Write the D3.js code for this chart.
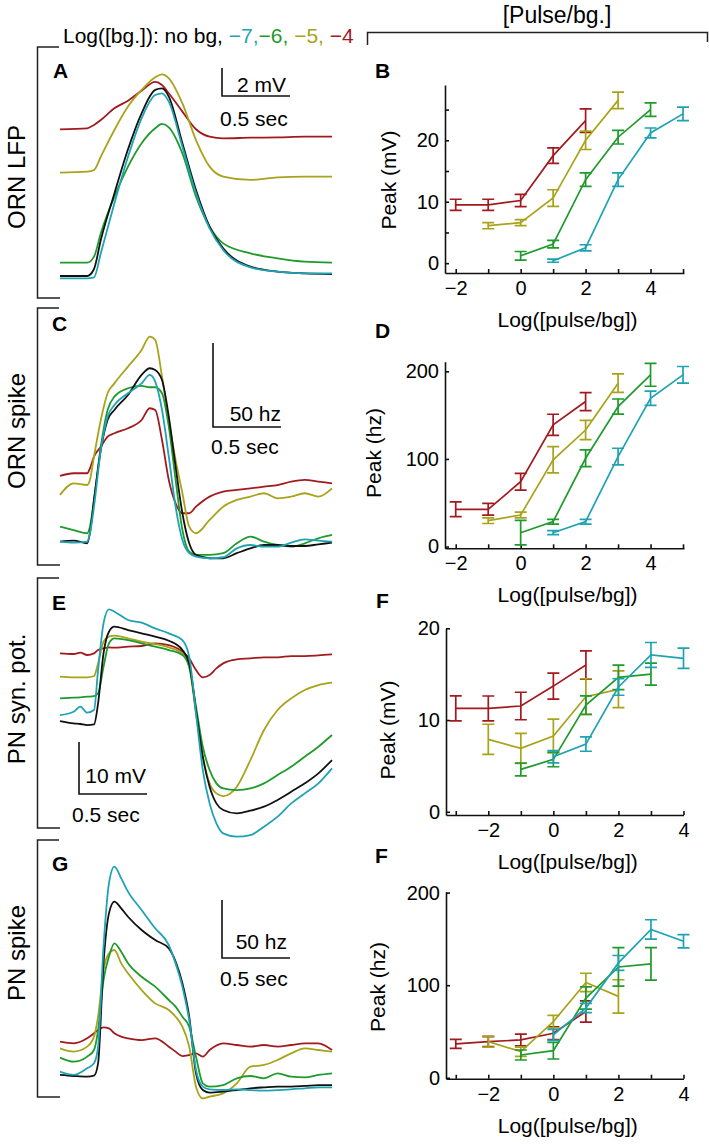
<!DOCTYPE html>
<html><head><meta charset="utf-8">
<script src="https://cdn.jsdelivr.net/npm/d3@7"></script>
<style>
body{margin:0;background:#fff}
svg{display:block}
text{font-family:"Liberation Sans",Arial,Helvetica,sans-serif;fill:#000}
</style>
</head><body>
<svg id="c" width="709" height="1146"></svg>
<script>
// ---------------- DATA ----------------
// background levels, order: no bg, -7, -6, -5, -4
const bgLabels = ["no bg", "−7", "−6", "−5", "−4"];

// Panel A: ORN LFP traces (time in s, value in mV, arbitrary offset)
const tLfp = [0,0.2,0.25,0.3,0.4,0.5,0.6,0.7,0.75,0.8,0.9,1.0,1.1,1.2,1.4,1.6,1.8,2.0];
const lfpNone = [0,0,0.5,2.57,5.90,9.05,11.62,13.29,13.40,12.81,9.48,6.14,3.52,1.98,0.67,0.31,0.19,0.14];
const lfpM7   = [-0.17,-0.17,-0.10,1.62,5.19,8.52,11.26,12.93,13.05,12.45,9.24,5.90,3.40,1.86,0.62,0.31,0.19,0.19];
const lfpM6   = [0.95,0.95,1.38,3.05,5.67,7.81,9.48,10.55,10.86,10.62,8.76,5.67,3.52,2.33,1.62,1.26,1.02,0.95];
const lfpM5   = [7.38,7.45,7.57,8.52,10.43,12.10,13.29,14.19,14.40,14.12,12.33,9.71,7.81,7.10,6.86,7.05,7.10,7.10];
const lfpM4   = [10.48,10.55,10.79,11.14,11.98,12.52,13.24,13.86,13.64,13.05,11.74,10.48,9.95,9.83,9.88,9.90,9.95,9.95];

// Panel C: ORN spike rate traces (Hz)
const tOrn = [0,0.1,0.2,0.22,0.25,0.3,0.35,0.4,0.5,0.6,0.66,0.7,0.75,0.8,0.85,0.9,0.95,1.0,1.1,1.2,1.3,1.4,1.5,1.6,1.7,1.8,1.9,2.0];
const ornNone = [12.9,13.5,11.9,17.9,37.7,67.5,85.3,91.3,100.2,112.1,116.1,115.1,109.1,87.3,57.5,29.8,11.9,5.0,3.0,3.0,6.0,8.9,10.9,10.9,10.3,10.3,11.3,12.3];
const ornM7   = [12.9,12.3,12.9,17.9,33.7,67.5,87.3,94.2,101.2,107.1,112.1,108.1,91.3,63.5,33.7,13.9,6.0,4.0,3.0,3.6,8.9,10.9,9.9,9.9,12.3,14.3,13.5,12.9];
const ornM6   = [21.8,19.8,17.9,21.8,37.7,69.4,91.3,99.2,104.2,105.6,104.8,104.8,101.2,81.3,49.6,19.8,6.9,5.0,5.0,6.0,11.9,15.9,12.9,10.9,9.9,11.9,14.9,16.9];
const ornM5   = [40.7,47.6,46.6,49.6,63.5,85.3,101.2,107.1,117.1,127.0,134.9,132.9,111.1,85.3,61.5,41.7,21.8,17.9,25.8,33.7,37.7,39.7,41.7,38.7,39.7,41.7,39.7,44.6];
const ornM4   = [52.0,53.6,53.6,56.5,63.5,69.4,75.4,77.4,80.4,85.3,92.3,91.3,73.4,49.6,35.7,29.8,29.8,33.7,39.7,42.7,43.7,44.6,45.6,46.6,48.6,49.6,48.6,47.6];

// Panel E: PN synaptic potential traces (mV)
const tSyn = [0,0.1,0.15,0.2,0.25,0.28,0.32,0.36,0.4,0.5,0.6,0.7,0.8,0.9,0.95,1.0,1.05,1.1,1.15,1.2,1.3,1.4,1.5,1.6,1.7,1.8,1.9,2.0];
const synNone = [22.24,21.79,21.67,21.47,21.60,25.64,35.26,39.42,40.38,39.74,39.10,38.46,37.69,35.90,33.33,24.36,15.38,9.62,6.41,5.13,4.49,5.0,5.77,7.05,8.65,10.26,12.18,14.74];
const synM7   = [23.40,24.04,25.0,23.85,24.36,32.05,41.03,43.72,43.27,41.67,41.15,40.06,39.10,37.82,34.62,23.72,12.82,6.41,2.56,0.64,0,0.32,1.92,3.85,6.41,8.33,10.26,13.14];
const synM6   = [26.60,26.73,26.79,26.92,27.05,27.56,32.69,37.18,38.14,37.82,37.18,36.54,35.90,34.94,32.69,25.0,17.31,12.82,10.26,9.29,8.97,9.29,10.26,11.86,13.46,15.38,17.31,19.55];
const synM5   = [30.77,30.64,30.64,30.64,30.90,33.33,37.50,38.46,38.65,38.14,37.50,37.05,36.41,35.26,32.69,23.72,15.38,10.26,8.33,7.82,9.62,14.74,20.51,24.36,26.60,28.21,29.17,29.62];
const synM4   = [35.26,35.13,35.38,34.94,35.26,35.90,36.22,36.41,36.35,36.54,36.67,37.18,36.86,35.58,34.29,32.05,30.64,31.09,32.37,33.33,34.10,34.29,34.49,34.49,34.74,34.74,34.87,35.06];

// Panel G: PN spike rate traces (Hz)
const tPn = [0,0.1,0.2,0.25,0.28,0.32,0.36,0.4,0.45,0.5,0.6,0.7,0.8,0.85,0.9,0.95,1.0,1.05,1.1,1.2,1.3,1.4,1.5,1.6,1.7,1.8,1.9,2.0];
const pnNone = [21.6,20.7,20.1,21.0,31.6,117.8,160.9,171.0,165.2,158.0,146.6,137.9,130.7,119.3,100.6,71.8,23.0,8.6,6.3,7.2,8.6,10.1,10.9,11.5,11.5,12.1,12.9,12.9];
const pnM7   = [24.4,21.6,27.3,31.6,46.0,132.2,186.8,201.1,191.1,179.6,163.8,148.0,133.6,117.8,97.7,69.0,25.9,11.5,9.2,8.6,9.2,8.6,8.0,8.6,9.2,10.1,10.9,10.9];
const pnM6   = [36.5,33.0,37.4,43.1,60.3,103.4,123.6,135.1,127.9,117.8,106.3,97.7,86.2,80.5,71.8,63.2,37.4,14.4,11.5,12.9,18.7,20.7,18.7,23.0,20.1,19.5,21.6,23.0];
const pnM5   = [44.5,41.7,46.0,54.6,71.8,112.1,126.4,129.3,117.8,109.2,94.8,83.3,77.6,71.8,63.2,46.0,11.5,1.4,2.9,5.7,14.4,28.7,30.2,34.5,40.2,44.5,43.1,41.7];
const pnM4   = [50.3,48.9,53.2,57.5,60.3,62.6,61.8,57.5,54.6,53.2,51.7,53.2,46.0,41.7,37.9,38.8,40.2,37.4,43.1,48.9,47.4,46.0,47.4,46.0,47.4,48.9,48.9,43.1];

// Dose-response panels: series order -7, -6, -5, -4; x = Log([pulse/bg])
const peakXB = [[1,2,3,4,5],[0,1,2,3,4],[-1,0,1,2,3],[-2,-1,0,1,2]];
const peakB  = [[0.4,2.5,13.6,21.2,24.3],[1.2,3.1,13.6,20.5,25.0],[6.1,6.6,10.6,20.0,26.5],[9.5,9.5,10.2,17.5,23.2]];
const errB   = [[0.25,0.5,1.1,0.8,1.1],[0.7,0.6,1.1,1.1,1.1],[0.5,0.5,1.35,1.5,1.35],[0.9,0.9,1.0,1.25,1.9]];

const peakXD = [[1,2,3,4,5],[0,1,2,3,4],[-1,0,1,2,3],[-2,-1,0,1,2]];
const peakD  = [[15.8,28.4,102.7,169.3,196],[15.8,28.4,100.8,159.8,196],[29.5,36,99,133,186.5],[42.5,42.5,74,139,165.5]];
const errD   = [[2.3,2.7,9.5,8.2,9.5],[14,2.7,9.5,8.6,13],[3.2,3.2,15,11,10.5],[8.4,6.7,9.5,12,10.3]];

const peakXF = [[0,1,2,3,4],[-1,0,1,2,3],[-2,-1,0,1,2],[-3,-2,-1,0,1]];
const peakF  = [[6.0,7.38,13.6,17.09,16.73],[4.62,5.71,11.63,14.65,15.0],[7.9,6.91,8.26,12.54,13.35],[11.27,11.27,11.53,13.7,16.0]];
const errF   = [[0.67,0.78,0.9,1.36,1.1],[0.7,0.8,1.0,1.33,1.2],[1.64,1.64,1.85,1.96,2.0],[1.36,1.35,1.5,1.42,1.55]];

const peakXH = [[0,1,2,3,4],[-1,0,1,2,3],[-2,-1,0,1,2],[-3,-2,-1,0,1]];
const peakH  = [[46.3,75.3,124.1,160.2,147.5],[24.6,29.3,86.1,119.7,123.0],[39.0,28.2,60.7,103.0,87.9],[36.6,39.0,40.9,48.1,71.6]];
const errH   = [[6,5,8,10.5,7.2],[5.4,9,12,20.8,17.5],[6,5,6.7,9.9,18],[4.9,5.4,6.3,6.9,11.4]];

// tick values
const xTicksB = [-2,-1,0,1,2,3,4,5];
const xTicksF = [-3,-2,-1,0,1,2,3,4];
const xTickLabels = [-2,0,2,4];

// ---------------- STYLE ----------------
const cNone = "#111111", cM7 = "#1ea3b2", cM6 = "#1f9a2c", cM5 = "#a8a31b", cM4 = "#a21a1e";
const traceColors = [cNone, cM7, cM6, cM5, cM4];
const doseColors = [cM7, cM6, cM5, cM4];
const FONT = '"Liberation Sans", Arial, Helvetica, sans-serif';

const svg = d3.select("#c");
const fmt = d3.format("d");

// ---------------- HEADER ----------------
const hdr = svg.append("text").attr("x", 63).attr("y", 43).attr("font-size", 21);
hdr.append("tspan").text("Log([bg.]): " + bgLabels[0] + ", ");
hdr.append("tspan").style("fill", cM7).text(bgLabels[1] + ",");
hdr.append("tspan").style("fill", cM6).text(bgLabels[2] + ",");
hdr.append("tspan").style("fill", cM5).text(" " + bgLabels[3] + ",");
hdr.append("tspan").style("fill", cM4).text(" " + bgLabels[4]);

svg.append("text").attr("x", 557).attr("y", 23).attr("font-size", 23)
  .attr("text-anchor", "middle").text("[Pulse/bg.]");
svg.append("path").attr("d", "M367.5,45V32.5H707.5V42").attr("fill", "none")
  .attr("stroke", "#222").attr("stroke-width", 1.5);

// left brackets
[[47, 298], [308, 565], [578, 828], [840, 1097]].forEach(([a, b]) => {
  svg.append("path").attr("d", `M59,${a}H37.5V${b}H60`).attr("fill", "none")
    .attr("stroke", "#222").attr("stroke-width", 1.5);
});

// panel letters
[["A", 53, 78], ["B", 375, 78], ["C", 52, 331], ["D", 375, 338], ["E", 52, 610],
 ["F", 376, 608], ["G", 52, 871], ["F", 375, 863]].forEach(([l, x, y]) => {
  svg.append("text").attr("x", x).attr("y", y).attr("font-size", 21)
    .attr("font-weight", "bold").text(l);
});

// rotated row labels
[["ORN LFP", 177], ["ORN spike", 431], ["PN syn. pot.", 699], ["PN spike", 953]].forEach(([t, yc]) => {
  svg.append("text").attr("transform", `translate(25,${yc}) rotate(-90)`)
    .attr("text-anchor", "middle").attr("font-size", 24).text(t);
});

// ---------------- TRACE PANELS ----------------
function tracePanel(o) {
  const x = d3.scaleLinear().domain([0, 2]).range([60, 332]);
  const y = d3.scaleLinear().domain([0, 10]).range([o.y0, o.y0 - 10 * o.k]);
  const line = d3.line().x((d, i) => x(o.t[i])).y(d => y(d)).curve(d3.curveMonotoneX);
  [4, 3, 2, 0, 1].forEach(si => {
    svg.append("path").attr("d", line(o.vals[si])).attr("fill", "none")
      .attr("stroke", traceColors[si]).attr("stroke-width", 1.8)
      .attr("stroke-linejoin", "round");
  });
  const [cx, cy] = o.bar;
  const vlen = y(0) - y(o.barVal), hlen = x(0.5) - x(0);
  svg.append("path").attr("d", `M${cx},${cy - vlen}V${cy}H${cx + hlen}`)
    .attr("fill", "none").attr("stroke", "#111").attr("stroke-width", 1.6);
  svg.append("text").attr("x", cx + hlen + o.vOff[0]).attr("y", cy + o.vOff[1])
    .attr("text-anchor", "end").attr("font-size", 21).text(o.barText);
  svg.append("text").attr("x", cx + o.hOff[0]).attr("y", cy + o.hOff[1])
    .attr("font-size", 21).text("0.5 sec");
}

tracePanel({t: tLfp, vals: [lfpNone, lfpM7, lfpM6, lfpM5, lfpM4], y0: 276, k: 14,
  bar: [222, 96], barVal: 2, barText: "2 mV", vOff: [-4, -4], hOff: [-2, 30]});
tracePanel({t: tOrn, vals: [ornNone, ornM7, ornM6, ornM5, ornM4], y0: 563.3, k: 1.68,
  bar: [213, 427], barVal: 50, barText: "50 hz", vOff: [0, -6], hOff: [-2, 27]});
tracePanel({t: tSyn, vals: [synNone, synM7, synM6, synM5, synM4], y0: 836.7, k: 5.2,
  bar: [79, 794], barVal: 10, barText: "10 mV", vOff: [-1, -11], hOff: [-7, 28]});
tracePanel({t: tPn, vals: [pnNone, pnM7, pnM6, pnM5, pnM4], y0: 1100, k: 1.16,
  bar: [222, 958], barVal: 50, barText: "50 hz", vOff: [-3, -9], hOff: [-2, 28]});

// ---------------- DOSE-RESPONSE PANELS ----------------
function dosePanel(o) {
  const x = d3.scaleLinear().domain(o.xd).range([o.x0, o.x1]);
  const y = d3.scaleLinear().domain(o.yd).range([o.yb, o.yt]);
  const gx = svg.append("g").attr("transform", `translate(0,${o.yb})`)
    .call(d3.axisBottom(x).tickValues(o.xt).tickSizeInner(-4).tickSizeOuter(0).tickPadding(8)
      .tickFormat(d => xTickLabels.includes(d) ? fmt(d) : ""));
  const gy = svg.append("g").attr("transform", `translate(${o.x0},0)`)
    .call(d3.axisLeft(y).tickValues(o.yt2).tickSizeInner(-4).tickSizeOuter(0).tickPadding(6)
      .tickFormat(d => o.yl.includes(d) ? fmt(d) : ""));
  [gx, gy].forEach(g => {
    g.attr("font-size", 20).attr("font-family", FONT);
    g.select(".domain").attr("stroke", "#111").attr("stroke-width", 1.6);
    g.selectAll(".tick line").attr("stroke", "#111").attr("stroke-width", 1.6);
    g.selectAll(".tick text").style("fill", "#000");
  });
  svg.append("text").attr("x", (o.x0 + o.x1) / 2 + 3).attr("y", o.yb + 54)
    .attr("text-anchor", "middle").attr("font-size", 21).text("Log([pulse/bg])");
  svg.append("text").attr("transform", `translate(${o.ytx},${o.ytc}) rotate(-90)`)
    .attr("text-anchor", "middle").attr("font-size", 21).text(o.ytitle);

  const line = d3.line().x(d => x(d[0])).y(d => y(d[1]));
  [3, 2, 1, 0].forEach(si => {
    const pts = o.xs[si].map((xv, i) => [xv, o.m[si][i], o.e[si][i]]);
    const col = doseColors[si];
    svg.append("path").attr("d", line(pts)).attr("fill", "none")
      .attr("stroke", col).attr("stroke-width", 1.7);
    const g = svg.append("g").attr("stroke", col).attr("stroke-width", 1.7).attr("fill", "none");
    pts.forEach(([xv, m, e]) => {
      const px = x(xv), a = y(m + e), b = y(m - e);
      g.append("path").attr("d", `M${px},${a}V${b}M${px - 6},${a}H${px + 6}M${px - 6},${b}H${px + 6}`);
    });
  });
}

dosePanel({xd: [-2.33, 5.03], x0: 445, x1: 684, yd: [-1.6, 29], yb: 273, yt: 85,
  xt: xTicksB, yt2: [0, 5, 10, 15, 20, 25], yl: [0, 10, 20],
  xs: peakXB, m: peakB, e: errB, ytitle: "Peak (mV)", ytx: 396, ytc: 180});
dosePanel({xd: [-2.33, 5.03], x0: 445, x1: 684, yd: [-2, 211], yb: 548.3, yt: 361.7,
  xt: xTicksB, yt2: [0, 100, 200], yl: [0, 100, 200],
  xs: peakXD, m: peakD, e: errD, ytitle: "Peak (hz)", ytx: 381, ytc: 453});
dosePanel({xd: [-3.3, 4.0], x0: 446, x1: 683.5, yd: [-0.35, 20], yb: 815, yt: 628.3,
  xt: xTicksF, yt2: [0, 10, 20], yl: [0, 10, 20],
  xs: peakXF, m: peakF, e: errF, ytitle: "Peak (mV)", ytx: 395, ytc: 730});
dosePanel({xd: [-3.3, 4.0], x0: 446, x1: 683.5, yd: [-1, 201], yb: 1078.7, yt: 891.7,
  xt: xTicksF, yt2: [0, 100, 200], yl: [0, 100, 200],
  xs: peakXH, m: peakH, e: errH, ytitle: "Peak (hz)", ytx: 385, ytc: 987});
</script>
</body></html>
